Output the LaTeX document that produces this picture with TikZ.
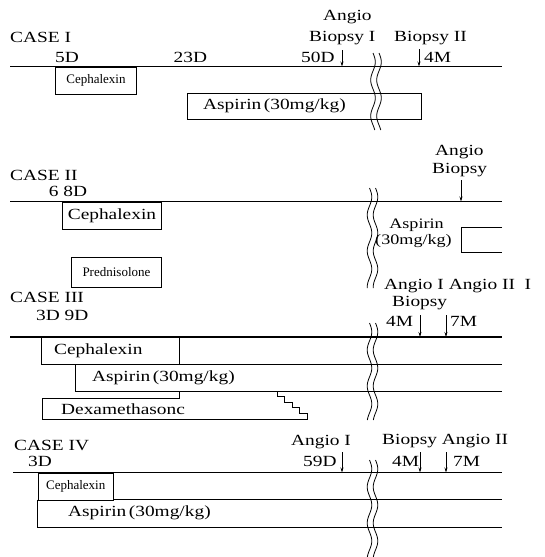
\documentclass[tikz,border=0pt]{standalone}
\usepackage{fontspec}
\setmainfont[FakeStretch=1.25]{Liberation Serif}
\newfontfamily\narrowfont{Liberation Serif}
\usetikzlibrary{arrows.meta}
\newcommand{\breakmark}[3]{%
  \draw[brk] plot[smooth, domain=#2:#3, samples=40] ({#1 + 2.3*sin((\x-#2)*10)}, \x);
  \draw[brk] plot[smooth, domain=#2:#3, samples=40] ({#1 + 6 + 2.3*sin((\x-#2)*10)}, \x);
}
\begin{document}
\begin{tikzpicture}[x=1pt,y=-1pt,
  lbl/.style={font=\fontsize{15.5}{17}\selectfont, inner sep=0pt, anchor=base west},
  big/.style={font=\fontsize{15.5}{17}\selectfont, inner sep=0pt},
  sml/.style={font=\narrowfont\fontsize{13}{15}\selectfont, inner sep=0pt},
  bar/.style={line width=0.9pt},
  tl/.style={line width=1.1pt},
  mk/.style={line width=0.7pt, -{Stealth[length=5pt,width=3pt]}},
  brk/.style={line width=0.8pt},
  boxn/.style={draw, line width=0.9pt, anchor=north west, inner sep=0pt}]
\useasboundingbox (0,0) rectangle (544,557);

% ---------------- CASE I ----------------
\node[lbl] (c1) at (10,42.5) {CASE I};
\node[lbl] (c1d5) at (55,62.5) {5D};
\node[lbl] (c1d23) at (173.5,62.5) {23D};
\node[lbl] (c1d50) at (301,62.5) {50D};
\node[lbl] (c1ang) at (323,20) {Angio};
\node[lbl] (c1bio) at (309,41) {Biopsy I};
\node[lbl] (c1bio2) at (394,41) {Biopsy II};
\node[lbl] (c1m4) at (424,62.5) {4M};
\coordinate (c1l) at (10,66.5);
\coordinate (c1r) at (502,66.5);
\draw[tl] (c1l) -- (c1r);
\coordinate (c1a1t) at (342,50); \coordinate (c1a1b) at (342,66.5);
\coordinate (c1a2t) at (419,49); \coordinate (c1a2b) at (419,66.5);
\draw[mk] (c1a1t) -- (c1a1b);
\draw[mk] (c1a2t) -- (c1a2b);
\node[boxn, sml, minimum width=81pt, minimum height=27.5pt] (c1ceph) at (55,66.5) {Cephalexin};
\node[boxn, minimum width=234pt, minimum height=25.5pt] (c1asp) at (187,93) {};
\node[big, anchor=west] (c1aspt) at ([xshift=16pt]c1asp.west) {Aspirin\,(30mg/kg)};
\breakmark{373}{53}{130}

% ---------------- CASE II ----------------
\node[lbl] (c2) at (10,180) {CASE II};
\node[lbl] (c2d) at (48.6,196.5) {6 8D};
\node[lbl] (c2ang) at (435,155) {Angio};
\node[lbl] (c2bio) at (432,173) {Biopsy};
\coordinate (c2l) at (10,201.5);
\coordinate (c2r) at (502,201.5);
\draw[tl] (c2l) -- (c2r);
\coordinate (c2a1t) at (461,180); \coordinate (c2a1b) at (461,201.5);
\draw[mk] (c2a1t) -- (c2a1b);
\node[boxn, big, minimum width=99pt, minimum height=27.5pt] (c2ceph) at (62,201.5) {Cephalexin};
\node[boxn, sml, minimum width=90pt, minimum height=30pt] (c2pred) at (71,257) {Prednisolone};
\node[big, anchor=base, font=\fontsize{14.5}{16}\selectfont] (c2asp1) at (416.5,228.5) {Aspirin};
\node[big, anchor=base, font=\fontsize{14.5}{16}\selectfont] (c2asp2) at (413.5,244.5) {(30mg/kg)};
\coordinate (c2bt) at (502,227); \coordinate (c2bb) at (502,252);
\draw[bar] (c2bt) -- (461.5,227) -- (461.5,252) -- (c2bb);
\breakmark{369.5}{188}{288}

% ---------------- CASE III ----------------
\node[lbl] (c3) at (10,302.5) {CASE III};
\node[lbl] (c3d) at (36,320.5) {3D 9D};
\node[lbl] (c3ang) at (384,289) {Angio I Angio II\ \ I};
\node[lbl] (c3bio) at (392,306.5) {Biopsy};
\node[lbl] (c3m4) at (386,326.5) {4M};
\node[lbl] (c3m7) at (450,326.5) {7M};
\coordinate (c3l) at (10,337);
\coordinate (c3r) at (502,337);
\draw[tl] (c3l) -- (c3r);
\coordinate (c3a1t) at (420,315); \coordinate (c3a1b) at (420,337);
\coordinate (c3a2t) at (446,315); \coordinate (c3a2b) at (446,337);
\draw[mk] (c3a1t) -- (c3a1b);
\draw[mk] (c3a2t) -- (c3a2b);
% Cephalexin
\draw[bar] (41,337) -- (41,364.5) -- (502,364.5);
\draw[bar] (179,337) -- (179,364.5);
\node[big, anchor=west] (c3ceph) at (54,351) {Cephalexin};
% Aspirin
\draw[bar] (75,364.5) -- (75,391) -- (502,391);
\node[big, anchor=west] (c3asp) at (92,377.5) {Aspirin\,(30mg/kg)};
% Dexamethasone
\draw[bar] (179,391) -- (179,398) -- (42,398) -- (42,419) -- (307,419)
  -- ++(0,-5.6) -- ++(-7.4,0) -- ++(0,-5.6) -- ++(-7.4,0) -- ++(0,-5.6)
  -- ++(-7.4,0) -- ++(0,-5.6) -- ++(-7.4,0) -- ++(0,-5.6) -- ++(-7.4,0);
\node[big, anchor=west] (c3dex) at (61,409) {Dexamethasonc};
\breakmark{369.5}{323}{420}

% ---------------- CASE IV ----------------
\node[lbl] (c4) at (14,450.5) {CASE IV};
\node[lbl] (c4d) at (28,466) {3D};
\node[lbl] (c4ang) at (291,445) {Angio I};
\node[lbl] (c4d59) at (303,466) {59D};
\node[lbl] (c4bio) at (382,444) {Biopsy Angio II};
\node[lbl] (c4m4) at (392,466) {4M};
\node[lbl] (c4m7) at (453,466) {7M};
\coordinate (c4l) at (13,472.5);
\coordinate (c4r) at (502,472.5);
\draw[tl] (c4l) -- (c4r);
\coordinate (c4a1t) at (342,452); \coordinate (c4a1b) at (342,472.5);
\coordinate (c4a2t) at (420,452); \coordinate (c4a2b) at (420,472.5);
\coordinate (c4a3t) at (446,452); \coordinate (c4a3b) at (446,472.5);
\draw[mk] (c4a1t) -- (c4a1b);
\draw[mk] (c4a2t) -- (c4a2b);
\draw[mk] (c4a3t) -- (c4a3b);
\node[boxn, sml, minimum width=75.5pt, minimum height=27pt] (c4ceph) at (37.5,472.5) {Cephalexin};
\draw[bar] (113,499.5) -- (502,499.5);
\draw[bar] (37.5,499.5) -- (37.5,527) -- (502,527);
\node[big, anchor=west] (c4asp) at (68,513) {Aspirin\,(30mg/kg)};
\breakmark{369.5}{460}{557}
\end{tikzpicture}
\end{document}
